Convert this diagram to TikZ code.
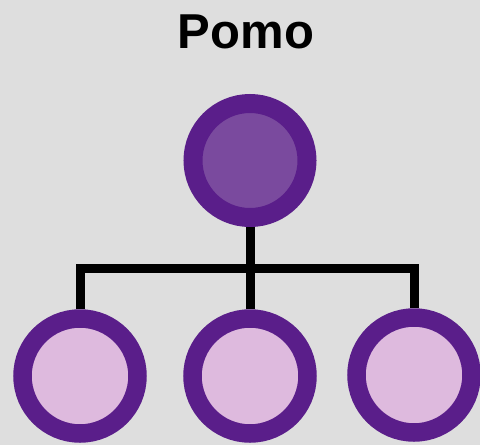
\documentclass[tikz,border=0pt]{standalone}
\usepackage{fontspec}
\setmainfont{Liberation Sans}
\definecolor{bgc}{HTML}{DEDEDE}
\definecolor{ring}{HTML}{5A1E8A}
\definecolor{topin}{HTML}{7A4A9E}
\definecolor{kidin}{HTML}{DEBADE}
\begin{document}
\begin{tikzpicture}[x=1pt,y=-1pt,
  parent/.style={circle,draw=ring,fill=topin,line width=19pt,minimum size=114pt,inner sep=0pt},
  kid/.style={circle,draw=ring,fill=kidin,line width=18.5pt,minimum size=115pt,inner sep=0pt},
  conn/.style={draw=black,line width=9pt,line join=miter}]
\fill[bgc] (0,0) rectangle (480,445);
\useasboundingbox (0,0) rectangle (480,445);
\node[font=\bfseries\fontsize{49}{49}\selectfont,anchor=base,inner sep=0pt] (title) at (246,48) {Pomo};
\node[parent] (top) at (250,160.5) {};
\node[kid] (c1) at (80,376) {};
\node[kid] (c2) at (250,376) {};
\node[kid] (c3) at (414,375) {};
\coordinate (bar) at (0,268);
\draw[conn] (top.south) -- (top.south |- bar);
\draw[conn] (c1.north) -- (c1.north |- bar) -- (c3.north |- bar) -- (c3.north);
\draw[conn] (c2.north) -- (c2.north |- bar);
\end{tikzpicture}
\end{document}
